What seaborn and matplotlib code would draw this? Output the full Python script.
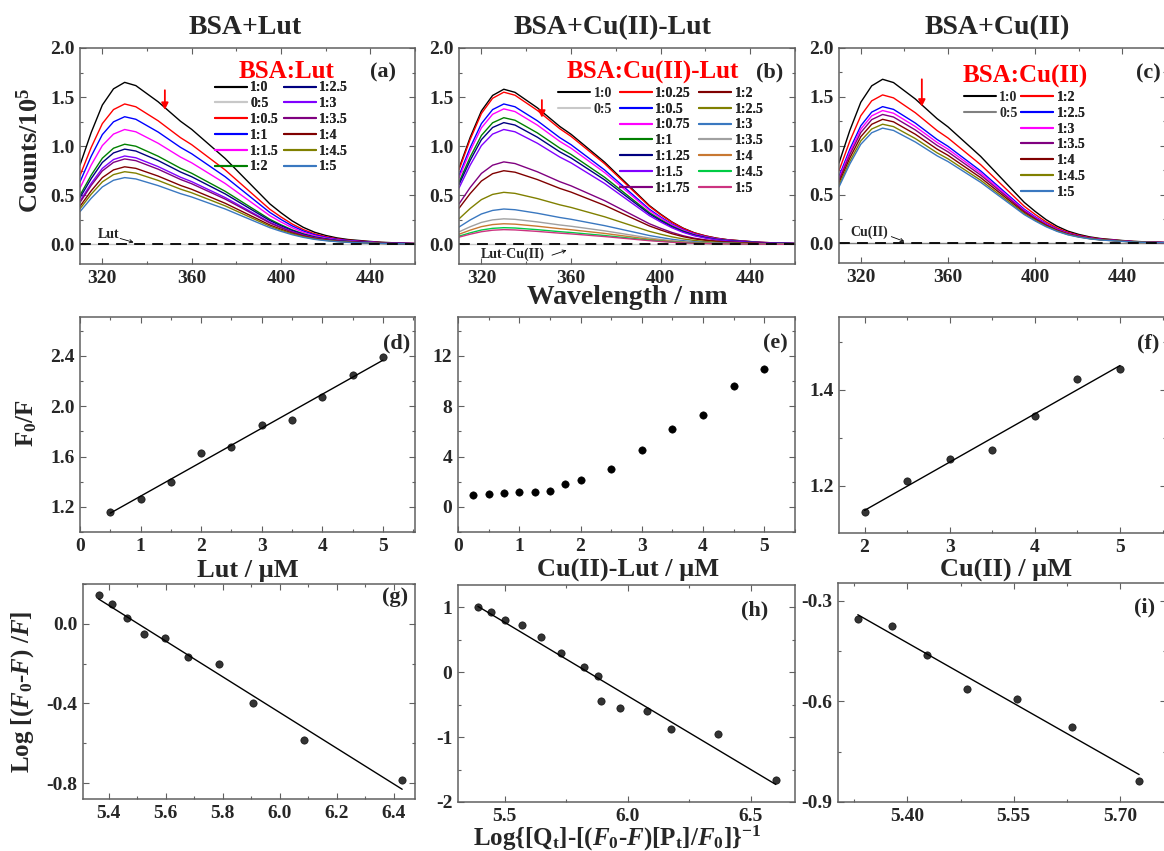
import numpy as np
import pandas as pd
import matplotlib
matplotlib.use('Agg')
import matplotlib.pyplot as plt
import seaborn as sns
from matplotlib.lines import Line2D
from matplotlib.ticker import MultipleLocator, FormatStrFormatter

sns.set_style('ticks')
plt.rcParams['font.family'] = ['Liberation Serif', 'DejaVu Serif']
plt.rcParams['font.weight'] = 'bold'
plt.rcParams['axes.labelweight'] = 'bold'
plt.rcParams['mathtext.fontset'] = 'custom'
plt.rcParams['mathtext.rm'] = 'Liberation Serif:bold'
plt.rcParams['mathtext.it'] = 'Liberation Serif:italic:bold'
plt.rcParams['mathtext.bf'] = 'Liberation Serif:bold'
plt.rcParams['axes.unicode_minus'] = False

# ---------------- data ----------------
wavelength = list(range(310, 461, 5))
# normalised emission profile read from the 1:0 spectrum
spectral_shape = [0.49, 0.69, 0.86, 0.96, 1.00, 0.98, 0.93, 0.88, 0.82, 0.76,
                  0.71, 0.65, 0.59, 0.53, 0.46, 0.39, 0.32, 0.25, 0.195, 0.145,
                  0.105, 0.075, 0.055, 0.040, 0.030, 0.024, 0.018, 0.013, 0.010,
                  0.008, 0.006]

a_labels = ['1:0', '0:5', '1:0.5', '1:1', '1:1.5', '1:2',
            '1:2.5', '1:3', '1:3.5', '1:4', '1:4.5', '1:5']
a_peaks = [1.65, 0.0, 1.43, 1.30, 1.17, 1.02, 0.97, 0.90, 0.87, 0.79, 0.74, 0.68]
a_colors = ['#000000', '#c8c8c8', '#ff0000', '#0000ff', '#ff00ff', '#008000',
            '#000080', '#8000ff', '#800080', '#800000', '#808000', '#3a78c0']

b_labels = ['1:0', '0:5', '1:0.25', '1:0.5', '1:0.75', '1:1', '1:1.25', '1:1.5',
            '1:1.75', '1:2', '1:2.5', '1:3', '1:3.5', '1:4', '1:4.5', '1:5']
b_peaks = [1.58, 0.0, 1.55, 1.43, 1.38, 1.29, 1.24, 1.17, 0.84, 0.75, 0.53,
           0.36, 0.26, 0.21, 0.17, 0.15]
b_colors = ['#000000', '#c8c8c8', '#ff0000', '#0000ff', '#ff00ff', '#008000',
            '#000080', '#8000ff', '#800080', '#800000', '#808000', '#3a78c0',
            '#a0a0a0', '#c87832', '#00cc44', '#cc3380']

c_labels = ['1:0', '0:5', '1:2', '1:2.5', '1:3', '1:3.5', '1:4', '1:4.5', '1:5']
c_peaks = [1.68, 0.0, 1.52, 1.40, 1.36, 1.32, 1.27, 1.22, 1.18]
c_colors = ['#000000', '#808080', '#ff0000', '#0000ff', '#ff00ff', '#800080',
            '#800000', '#808000', '#3a78c0']

d_x = [0.5, 1.0, 1.5, 2.0, 2.5, 3.0, 3.5, 4.0, 4.5, 5.0]
d_y = [1.16, 1.26, 1.40, 1.63, 1.68, 1.85, 1.89, 2.07, 2.25, 2.39]

e_x = [0.25, 0.5, 0.75, 1.0, 1.25, 1.5, 1.75, 2.0, 2.5, 3.0, 3.5, 4.0, 4.5, 5.0]
e_y = [0.95, 1.03, 1.08, 1.17, 1.22, 1.30, 1.83, 2.15, 3.0, 4.53, 6.23, 7.34, 9.6, 11.0]

f_x = [2.0, 2.5, 3.0, 3.5, 4.0, 4.5, 5.0]
f_y = [1.146, 1.211, 1.256, 1.274, 1.346, 1.423, 1.444]

g_x = [5.365, 5.412, 5.464, 5.523, 5.596, 5.678, 5.788, 5.908, 6.086, 6.43]
g_y = [0.146, 0.099, 0.030, -0.050, -0.072, -0.167, -0.203, -0.399, -0.583, -0.787]

h_x = [5.391, 5.446, 5.503, 5.572, 5.648, 5.730, 5.824, 5.878, 5.893, 5.968,
       6.078, 6.176, 6.367, 6.602]
h_y = [1.0, 0.935, 0.80, 0.725, 0.55, 0.30, 0.077, -0.057, -0.438, -0.556,
       -0.597, -0.88, -0.947, -1.66]

i_x = [5.330, 5.378, 5.427, 5.484, 5.554, 5.633, 5.727]
i_y = [-0.353, -0.374, -0.461, -0.564, -0.593, -0.676, -0.838]

# ---------------- figure ----------------
W, H = 1164, 851
fig = plt.figure(figsize=(W / 100, H / 100), dpi=100)


def add(l, t, r, b):
    return fig.add_axes([l / W, 1 - b / H, (r - l) / W, (b - t) / H])


def ftext(x, y, s, **kw):
    kw.setdefault('ha', 'center')
    kw.setdefault('va', 'center')
    kw.setdefault('fontweight', 'bold')
    fig.text(x / W, 1 - y / H, s, **kw)


def style(ax, xmaj, xmin, ymaj, ymin, xfmt, yfmt):
    for sp in ax.spines.values():
        sp.set_color('#606060')
        sp.set_linewidth(1.1)
        sp.set_visible(True)
    ax.xaxis.set_major_locator(MultipleLocator(xmaj))
    ax.xaxis.set_minor_locator(MultipleLocator(xmin))
    ax.yaxis.set_major_locator(MultipleLocator(ymaj))
    ax.yaxis.set_minor_locator(MultipleLocator(ymin))
    ax.xaxis.set_major_formatter(FormatStrFormatter(xfmt))
    ax.yaxis.set_major_formatter(FormatStrFormatter(yfmt))
    ax.tick_params(which='both', direction='in', top=True, right=True,
                   color='#606060', width=0.8, labelsize=14)
    ax.tick_params(which='major', length=4, pad=4)
    ax.tick_params(which='minor', length=2)
    for lab in ax.get_xticklabels() + ax.get_yticklabels():
        lab.set_fontweight('bold')
    ax.set_xlabel('')
    ax.set_ylabel('')


def spectra(ax, labels, peaks, colors):
    rows = []
    for lab, pk in zip(labels, peaks):
        for wl, s in zip(wavelength, spectral_shape):
            rows.append({'wl': wl, 'counts': pk * s, 'ratio': lab})
    df = pd.DataFrame(rows)
    sns.lineplot(data=df, x='wl', y='counts', hue='ratio', hue_order=labels,
                 palette=dict(zip(labels, colors)), lw=1.0, legend=False,
                 estimator=None, sort=False, ax=ax)
    ax.axhline(0, color='black', lw=1.3, ls=(0, (6, 4)))
    ax.set_xlim(310, 460)
    ax.set_ylim(-0.2, 2.0)
    style(ax, 40, 20, 0.5, 0.25, '%d', '%.1f')


def legend(ax, labels, colors, x, y, ncol, colsp=0.35):
    handles = [Line2D([], [], color=c, lw=1.5) for c in colors]
    leg = ax.legend(handles, labels, loc='upper left', bbox_to_anchor=(x, y),
                    ncol=ncol, frameon=False, prop={'weight': 'bold', 'size': 10},
                    handlelength=2.3, handletextpad=0.25, labelspacing=0.2,
                    columnspacing=colsp, borderpad=0, borderaxespad=0)
    ax.add_artist(leg)


def arrow(ax, x, y0, y1):
    ax.annotate('', xy=(x, y1), xytext=(x, y0),
                arrowprops=dict(arrowstyle='-|>', color='red', lw=1.3,
                                mutation_scale=10, shrinkA=0, shrinkB=0))


def note(ax, s, xy_text, xy_tip, arrow_from):
    ax.text(xy_text[0], xy_text[1], s, ha='center', va='center', fontsize=10,
            fontweight='bold')
    ax.annotate('', xy=xy_tip, xytext=arrow_from,
                arrowprops=dict(arrowstyle='->', color='black', lw=0.6,
                                mutation_scale=6, shrinkA=0, shrinkB=0))


# ---- (a)
ax_a = add(80, 48, 415, 264)
spectra(ax_a, a_labels, a_peaks, a_colors)
legend(ax_a, a_labels, a_colors, 0.403, 0.845, 2)
arrow(ax_a, 348, 1.57, 1.37)
note(ax_a, 'Lut', (323, 0.10), (334, 0.02), (328, 0.06))

# ---- (b)
ax_b = add(459, 48, 795, 264)
spectra(ax_b, b_labels, b_peaks, b_colors)
legend(ax_b, b_labels[:2], b_colors[:2], 0.295, 0.82, 1)
legend(ax_b, b_labels[2:], b_colors[2:], 0.479, 0.82, 2, colsp=0.6)
arrow(ax_b, 347, 1.47, 1.29)
note(ax_b, 'Lut-Cu(II)', (334, -0.10), (358, -0.06), (351.5, -0.11))

# ---- (c)
ax_c = add(839, 48, 1166, 263)
spectra(ax_c, c_labels, c_peaks, c_colors)
legend(ax_c, c_labels[:2], c_colors[:2], 0.382, 0.80, 1)
legend(ax_c, c_labels[2:], c_colors[2:], 0.557, 0.80, 1)
arrow(ax_c, 348, 1.68, 1.40)
note(ax_c, 'Cu(II)', (324, 0.11), (340, 0.02), (334, 0.07))

sk = {'s': 28, 'edgecolor': 'black', 'linewidths': 0.5}
lk = {'lw': 1.0}

# ---- (d)
ax_d = add(80, 317, 415, 532)
sns.regplot(x=d_x, y=d_y, ci=None, color='black', ax=ax_d,
            scatter_kws=sk, line_kws=lk)
ax_d.set_xlim(0, 5.53)
ax_d.set_ylim(1.0, 2.71)
style(ax_d, 1, 0.5, 0.4, 0.2, '%d', '%.1f')

# ---- (e)
ax_e = add(458, 317, 795, 532)
sns.scatterplot(x=e_x, y=e_y, color='black', s=28, edgecolor='black', ax=ax_e)
ax_e.set_xlim(0, 5.5)
ax_e.set_ylim(-2, 15.1)
style(ax_e, 1, 0.5, 4, 2, '%d', '%d')

# ---- (f)
ax_f = add(839, 317, 1166, 533)
sns.regplot(x=f_x, y=f_y, ci=None, color='black', ax=ax_f,
            scatter_kws=sk, line_kws=lk)
ax_f.set_xlim(1.7, 5.54)
ax_f.set_ylim(1.102, 1.552)
style(ax_f, 1, 0.5, 0.2, 0.1, '%d', '%.1f')

# ---- (g)
ax_g = add(83, 584, 415, 799)
sns.regplot(x=g_x, y=g_y, ci=None, color='black', ax=ax_g,
            scatter_kws=sk, line_kws=lk)
ax_g.set_xlim(5.31, 6.475)
ax_g.set_ylim(-0.88, 0.2)
style(ax_g, 0.2, 0.1, 0.4, 0.2, '%.1f', '%.1f')

# ---- (h)
ax_h = add(458, 585, 795, 802)
sns.regplot(x=h_x, y=h_y, ci=None, color='black', ax=ax_h,
            scatter_kws=sk, line_kws=lk)
ax_h.set_xlim(5.31, 6.68)
ax_h.set_ylim(-2, 1.345)
style(ax_h, 0.5, 0.25, 1, 0.5, '%.1f', '%d')

# ---- (i)
ax_i = add(838, 583, 1166, 802)
sns.regplot(x=i_x, y=i_y, ci=None, color='black', ax=ax_i,
            scatter_kws=sk, line_kws=lk)
ax_i.set_xlim(5.302, 5.765)
ax_i.set_ylim(-0.9, -0.247)
style(ax_i, 0.15, 0.075, 0.3, 0.15, '%.2f', '%.1f')

# ---------------- texts ----------------
ftext(245, 28, 'BSA+Lut', fontsize=20)
ftext(613, 28, 'BSA+Cu(II)-Lut', fontsize=20)
ftext(997, 28, 'BSA+Cu(II)', fontsize=20)

ftext(287, 72, 'BSA:Lut', color='red', fontsize=18)
ftext(653, 72, 'BSA:Cu(II)-Lut', color='red', fontsize=18)
ftext(1025, 76, 'BSA:Cu(II)', color='red', fontsize=18)

ftext(383, 72, '(a)', fontsize=16)
ftext(770, 72, '(b)', fontsize=16)
ftext(1148, 73, '(c)', fontsize=16)
ftext(397, 343, '(d)', fontsize=16)
ftext(775, 343, '(e)', fontsize=16)
ftext(1148, 343, '(f)', fontsize=16)
ftext(395, 597, '(g)', fontsize=16)
ftext(755, 610, '(h)', fontsize=16)
ftext(1145, 607, '(i)', fontsize=16)

ftext(30, 150, 'Counts/10$^5$', fontsize=19, rotation=90)
ftext(627, 298, 'Wavelength / nm', fontsize=20)
ftext(27, 423, 'F$_0$/F', fontsize=18, rotation=90)
ftext(248, 570, 'Lut / μM', fontsize=19)
ftext(628, 570, 'Cu(II)-Lut / μM', fontsize=19)
ftext(1006, 570, 'Cu(II) / μM', fontsize=19)
ftext(23, 692, 'Log [($F_0$-$F$) /$F$]', fontsize=18, rotation=90)
ftext(617, 838, 'Log{[Q$_\\mathrm{t}$]-[($F_0$-$F$)[P$_\\mathrm{t}$]/$F_0$]}$^{-1}$',
      fontsize=18)

fig.savefig('out.png', dpi=100)
